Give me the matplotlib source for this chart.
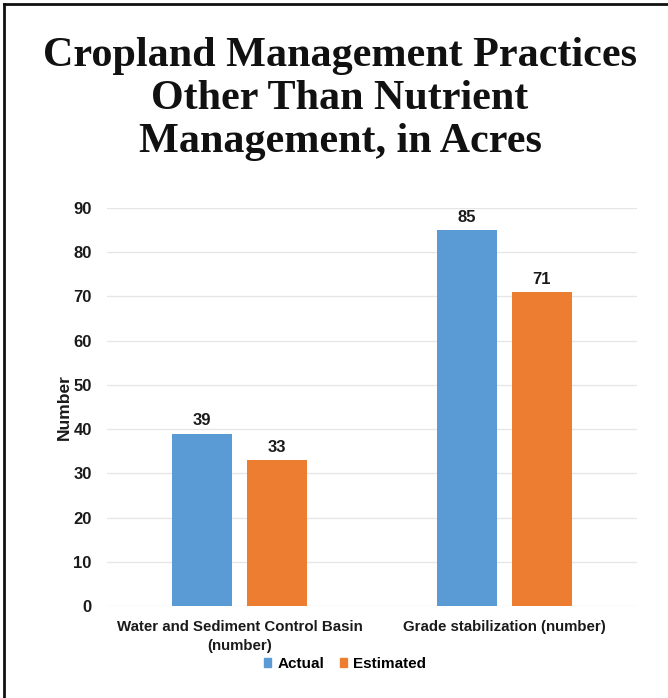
import matplotlib
matplotlib.use("Agg")
import matplotlib.pyplot as plt
from matplotlib.lines import Line2D
from matplotlib.patches import Patch
import numpy as np

categories = ["Water and Sediment Control Basin\n(number)", "Grade stabilization (number)"]
series_names = ["Actual", "Estimated"]
actual = [39, 85]
estimated = [33, 71]
y_ticks = [0, 10, 20, 30, 40, 50, 60, 70, 80, 90]
title_lines = ["Cropland Management Practices", "Other Than Nutrient", "Management, in Acres"]

blue = "#5B9BD5"
orange = "#ED7D31"
text_dark = "#1a1a1a"
W, H = 668, 698

fig = plt.figure(figsize=(W / 100, H / 100), dpi=100)
fig.patch.set_facecolor("white")

# frame lines along the top and left edges
fig.add_artist(Line2D([0.006, 1.0], [0.994, 0.994], color="#111111", lw=2.0,
                      transform=fig.transFigure))
fig.add_artist(Line2D([0.006, 0.006], [0.0, 0.994], color="#111111", lw=2.0,
                      transform=fig.transFigure))

# title, one line per text so each baseline sits where it should
for line, base_px in zip(title_lines, [66, 109, 152]):
    fig.text(340 / W, 1 - base_px / H, line, ha="center", va="baseline",
             fontsize=30.3, fontweight="bold", family="Liberation Serif",
             color="#111111")

ax = fig.add_axes([107 / W, 1 - 606 / H, 530 / W, 398 / H])
x = np.arange(len(categories))
w = 0.223
off = 0.1415
b1 = ax.bar(x - off, actual, width=w, color=blue, zorder=3)
b2 = ax.bar(x + off, estimated, width=w, color=orange, zorder=3)

for bars, vals in ((b1, actual), (b2, estimated)):
    for rect, v in zip(bars, vals):
        ax.text(rect.get_x() + rect.get_width() / 2, v + 1.2, f"{v}",
                ha="center", va="bottom", fontsize=12, fontweight="bold",
                family="Liberation Sans", color=text_dark)

ax.set_xlim(-0.5, 1.5)
ax.set_ylim(0, 90)
ax.set_yticks(y_ticks)
ax.set_yticklabels([str(t) for t in y_ticks], fontsize=12, fontweight="bold",
                   family="Liberation Sans", color=text_dark)
ax.tick_params(axis="y", length=0, pad=11)
ax.set_xticks(x)
ax.set_xticklabels(categories, fontsize=10.8, fontweight="bold",
                   family="Liberation Sans", color=text_dark, linespacing=1.5)
ax.tick_params(axis="x", length=0, pad=10)
ax.grid(axis="y", color="#e6e6e6", lw=1.0, zorder=0)
for s in ax.spines.values():
    s.set_visible(False)

ax.set_ylabel("Number", fontsize=12.5, fontweight="bold", family="Liberation Sans",
              color=text_dark, labelpad=1)

handles = [Patch(color=blue), Patch(color=orange)]
fig.legend(handles, series_names, loc="center", bbox_to_anchor=(345 / W, 1 - 664 / H),
           ncol=2, frameon=False, handlelength=0.5, handleheight=0.5,
           handletextpad=0.4, columnspacing=1.0,
           prop={"family": "Liberation Sans", "weight": "bold", "size": 11})

fig.savefig("out.png", dpi=100, facecolor="white")
